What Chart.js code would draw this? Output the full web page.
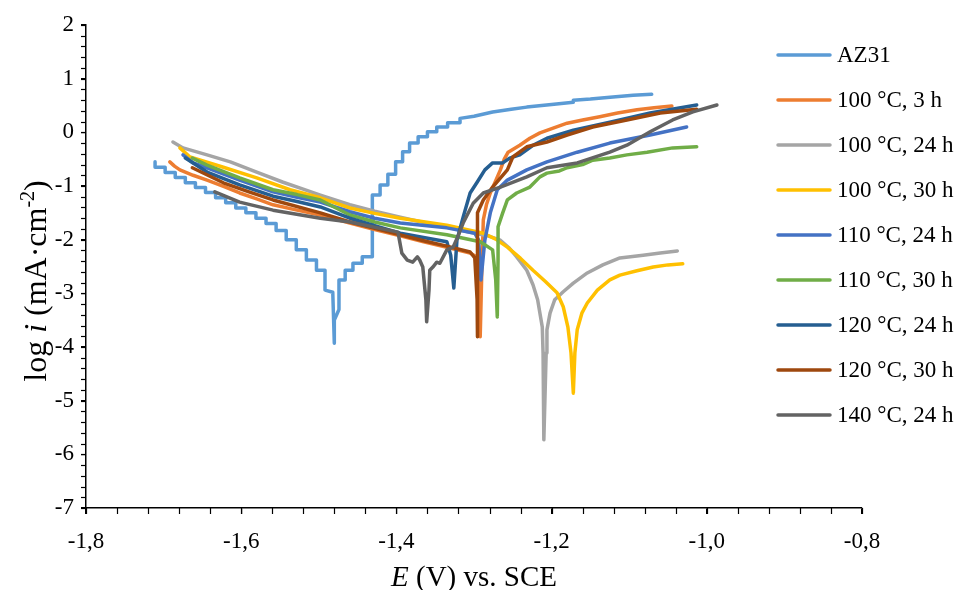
<!DOCTYPE html>
<html><head><meta charset="utf-8">
<script src="https://cdn.jsdelivr.net/npm/chart.js@4.4.1/dist/chart.umd.min.js"></script>
<style>html,body{margin:0;padding:0;background:#fff}canvas{display:block}</style>
</head><body>
<canvas id="c" width="959" height="590"></canvas>
<script>
// ---- data: [E (V vs SCE), log i (mA·cm-2)] ----
const seriesNames = ['AZ31','100 °C, 3 h','100 °C, 24 h','100 °C, 30 h','110 °C, 24 h','110 °C, 30 h','120 °C, 24 h','120 °C, 30 h','140 °C, 24 h'];
const xMajorTicks = [-1.8,-1.6,-1.4,-1.2,-1.0,-0.8];
const yMajorTicks = [-7,-6,-5,-4,-3,-2,-1,0,1,2];

const AZ31 = [[-1.711,-0.55],[-1.711,-0.65],[-1.698,-0.65],[-1.698,-0.75],[-1.685,-0.75],[-1.685,-0.84],[-1.672,-0.84],[-1.672,-0.94],[-1.659,-0.94],[-1.659,-1.03],[-1.646,-1.03],[-1.646,-1.12],[-1.633,-1.12],[-1.633,-1.22],[-1.620,-1.22],[-1.620,-1.31],[-1.607,-1.31],[-1.607,-1.41],[-1.594,-1.41],[-1.594,-1.50],[-1.581,-1.50],[-1.581,-1.60],[-1.568,-1.60],[-1.568,-1.70],[-1.555,-1.70],[-1.555,-1.83],[-1.542,-1.83],[-1.542,-2.00],[-1.529,-2.00],[-1.529,-2.19],[-1.516,-2.19],[-1.516,-2.38],[-1.503,-2.38],[-1.503,-2.57],[-1.492,-2.57],[-1.492,-2.94],[-1.482,-2.98],[-1.480,-3.93],[-1.480,-3.50],[-1.474,-3.30],[-1.474,-2.75],[-1.466,-2.75],[-1.466,-2.57],[-1.456,-2.57],[-1.456,-2.44],[-1.444,-2.44],[-1.444,-2.32],[-1.431,-2.32],[-1.431,-1.17],[-1.421,-1.17],[-1.421,-0.98],[-1.411,-0.98],[-1.411,-0.78],[-1.401,-0.78],[-1.401,-0.55],[-1.392,-0.55],[-1.392,-0.36],[-1.383,-0.36],[-1.383,-0.20],[-1.372,-0.20],[-1.372,-0.08],[-1.360,-0.08],[-1.360,0.01],[-1.348,0.01],[-1.348,0.10],[-1.334,0.10],[-1.334,0.18],[-1.318,0.18],[-1.318,0.26],[-1.300,0.30],[-1.276,0.38],[-1.252,0.43],[-1.232,0.47],[-1.200,0.52],[-1.172,0.56],[-1.172,0.60],[-1.150,0.62],[-1.121,0.66],[-1.095,0.69],[-1.071,0.71]];
const T100_3 = [[-1.692,-0.55],[-1.686,-0.63],[-1.679,-0.70],[-1.662,-0.80],[-1.644,-0.89],[-1.622,-1.01],[-1.602,-1.13],[-1.580,-1.24],[-1.559,-1.35],[-1.528,-1.45],[-1.498,-1.54],[-1.460,-1.69],[-1.428,-1.81],[-1.395,-1.93],[-1.365,-2.04],[-1.335,-2.14],[-1.305,-2.25],[-1.297,-2.32],[-1.294,-2.40],[-1.292,-3.12],[-1.292,-3.81],[-1.290,-2.62],[-1.288,-1.63],[-1.284,-1.35],[-1.279,-1.13],[-1.272,-0.90],[-1.266,-0.70],[-1.261,-0.50],[-1.256,-0.37],[-1.241,-0.24],[-1.228,-0.11],[-1.215,-0.01],[-1.198,0.08],[-1.180,0.17],[-1.160,0.23],[-1.138,0.29],[-1.115,0.36],[-1.090,0.42],[-1.068,0.46],[-1.045,0.49]];
const T100_24 = [[-1.688,-0.18],[-1.675,-0.29],[-1.644,-0.42],[-1.614,-0.55],[-1.580,-0.74],[-1.546,-0.93],[-1.522,-1.05],[-1.498,-1.17],[-1.460,-1.35],[-1.428,-1.47],[-1.395,-1.58],[-1.362,-1.69],[-1.331,-1.78],[-1.299,-1.88],[-1.282,-1.93],[-1.266,-2.01],[-1.255,-2.15],[-1.245,-2.32],[-1.232,-2.57],[-1.224,-2.84],[-1.218,-3.12],[-1.212,-3.63],[-1.211,-4.11],[-1.210,-5.73],[-1.207,-4.11],[-1.206,-3.68],[-1.202,-3.37],[-1.196,-3.12],[-1.185,-2.97],[-1.172,-2.81],[-1.154,-2.62],[-1.134,-2.47],[-1.112,-2.34],[-1.082,-2.29],[-1.060,-2.25],[-1.038,-2.21]];
const T100_30 = [[-1.679,-0.29],[-1.666,-0.46],[-1.623,-0.65],[-1.580,-0.85],[-1.537,-1.07],[-1.498,-1.22],[-1.460,-1.41],[-1.428,-1.51],[-1.395,-1.60],[-1.335,-1.73],[-1.288,-1.88],[-1.272,-1.99],[-1.257,-2.14],[-1.240,-2.35],[-1.224,-2.57],[-1.208,-2.78],[-1.193,-2.99],[-1.185,-3.25],[-1.179,-3.63],[-1.175,-4.11],[-1.172,-4.86],[-1.170,-4.11],[-1.167,-3.68],[-1.161,-3.37],[-1.154,-3.18],[-1.141,-2.94],[-1.125,-2.75],[-1.112,-2.66],[-1.090,-2.58],[-1.069,-2.51],[-1.050,-2.47],[-1.031,-2.45]];
const T110_24 = [[-1.675,-0.42],[-1.662,-0.57],[-1.644,-0.66],[-1.602,-0.89],[-1.559,-1.11],[-1.528,-1.21],[-1.498,-1.30],[-1.460,-1.48],[-1.428,-1.60],[-1.395,-1.69],[-1.335,-1.78],[-1.299,-1.88],[-1.294,-2.01],[-1.291,-2.75],[-1.286,-2.01],[-1.279,-1.50],[-1.270,-1.07],[-1.257,-0.89],[-1.232,-0.70],[-1.206,-0.55],[-1.167,-0.37],[-1.125,-0.20],[-1.073,-0.05],[-1.026,0.10]];
const T110_30 = [[-1.663,-0.48],[-1.644,-0.61],[-1.602,-0.85],[-1.559,-1.07],[-1.528,-1.16],[-1.498,-1.26],[-1.460,-1.54],[-1.428,-1.67],[-1.395,-1.78],[-1.335,-1.91],[-1.292,-2.04],[-1.276,-2.19],[-1.272,-2.75],[-1.270,-3.44],[-1.269,-2.38],[-1.269,-1.76],[-1.263,-1.50],[-1.257,-1.26],[-1.245,-1.13],[-1.228,-1.02],[-1.215,-0.83],[-1.206,-0.76],[-1.190,-0.72],[-1.180,-0.66],[-1.160,-0.60],[-1.147,-0.52],[-1.125,-0.48],[-1.103,-0.42],[-1.077,-0.37],[-1.044,-0.29],[-1.013,-0.27]];
const T120_24 = [[-1.672,-0.48],[-1.644,-0.74],[-1.602,-0.98],[-1.559,-1.19],[-1.528,-1.29],[-1.498,-1.39],[-1.460,-1.60],[-1.428,-1.74],[-1.395,-1.88],[-1.335,-2.04],[-1.330,-2.29],[-1.326,-2.90],[-1.322,-2.01],[-1.314,-1.58],[-1.305,-1.13],[-1.296,-0.93],[-1.286,-0.70],[-1.276,-0.57],[-1.263,-0.57],[-1.254,-0.48],[-1.241,-0.42],[-1.224,-0.24],[-1.206,-0.11],[-1.172,0.04],[-1.125,0.19],[-1.073,0.36],[-1.013,0.51]];
const T120_30 = [[-1.663,-0.66],[-1.623,-0.94],[-1.590,-1.11],[-1.559,-1.26],[-1.498,-1.50],[-1.460,-1.67],[-1.428,-1.79],[-1.395,-1.91],[-1.365,-2.02],[-1.335,-2.12],[-1.305,-2.23],[-1.299,-2.34],[-1.296,-3.12],[-1.296,-3.81],[-1.295,-1.50],[-1.288,-1.26],[-1.276,-1.02],[-1.257,-0.70],[-1.250,-0.46],[-1.232,-0.27],[-1.206,-0.18],[-1.180,-0.05],[-1.147,0.10],[-1.103,0.23],[-1.060,0.36],[-1.013,0.43]];
const T140_24 = [[-1.634,-1.11],[-1.602,-1.30],[-1.559,-1.45],[-1.498,-1.60],[-1.460,-1.67],[-1.398,-1.86],[-1.393,-2.25],[-1.386,-2.38],[-1.379,-2.42],[-1.373,-2.32],[-1.370,-2.38],[-1.366,-2.51],[-1.362,-3.12],[-1.361,-3.53],[-1.358,-2.94],[-1.357,-2.57],[-1.353,-2.51],[-1.348,-2.42],[-1.344,-2.44],[-1.335,-2.19],[-1.327,-2.14],[-1.321,-1.95],[-1.314,-1.69],[-1.301,-1.32],[-1.288,-1.13],[-1.266,-1.02],[-1.232,-0.83],[-1.206,-0.66],[-1.167,-0.57],[-1.125,-0.37],[-1.103,-0.24],[-1.073,0.01],[-1.044,0.23],[-1.018,0.38],[-0.987,0.51]];

const seriesData = [AZ31,T100_3,T100_24,T100_30,T110_24,T110_30,T120_24,T120_30,T140_24];
const colors = ['#5B9BD5','#ED7D31','#A5A5A5','#FFC000','#4472C4','#70AD47','#255E91','#9E480E','#636363'];

const FONT = "'Liberation Serif','Times New Roman',serif";
const TICK_SIZE = 23, LEGEND_SIZE = 23, XTITLE_SIZE = 29, YTITLE_SIZE = 32;
const LINE_W = 3.5;
Chart.defaults.font.family = FONT;
Chart.defaults.color = '#000';

const near = (v, arr) => arr.some(a => Math.abs(a - v) < 1e-6);

// minor tick marks (every 0.04 V on x, every 0.2 on y), placed through the chart's scales
const minorTickPlugin = {
  id: 'minorTicks',
  afterDraw(chart) {
    const ctx = chart.ctx, xs = chart.scales.x, ys = chart.scales.y, a = chart.chartArea;
    ctx.save();
    ctx.strokeStyle = '#000'; ctx.lineWidth = 1.2;
    const nx = Math.round((xs.max - xs.min) / 0.04);
    for (let k = 0; k <= nx; k++) {
      const px = Math.round(xs.getPixelForValue(xs.min + k * 0.04)) + 0.5;
      ctx.beginPath(); ctx.moveTo(px, a.bottom); ctx.lineTo(px, a.bottom + 6); ctx.stroke();
    }
    const ny = Math.round((ys.max - ys.min) / 0.2);
    for (let k = 0; k <= ny; k++) {
      const py = Math.round(ys.getPixelForValue(ys.min + k * 0.2)) + 0.5;
      ctx.beginPath(); ctx.moveTo(a.left - 5, py); ctx.lineTo(a.left, py); ctx.stroke();
    }
    ctx.restore();
  }
};

const legendPlugin = {
  id: 'customLegend',
  afterDraw(chart) {
    const ctx = chart.ctx;
    ctx.save();
    chart.data.datasets.forEach((ds, i) => {
      const y = 55 + i * 45;
      ctx.strokeStyle = ds.borderColor;
      ctx.lineWidth = LINE_W;
      ctx.lineCap = 'round';
      ctx.beginPath(); ctx.moveTo(778, y); ctx.lineTo(830, y); ctx.stroke();
      ctx.fillStyle = '#000';
      ctx.font = LEGEND_SIZE + "px " + FONT;
      ctx.textBaseline = 'middle';
      ctx.textAlign = 'left';
      ctx.fillText(ds.label, 837, y + 1);
    });
    ctx.restore();
  }
};

function drawRich(ctx, parts, cx, cy, rot, size) {
  ctx.save();
  ctx.translate(cx, cy); ctx.rotate(rot);
  const f = p => (p.italic ? 'italic ' : '') + (p.sup ? Math.round(size * 0.62) : size) + 'px ' + FONT;
  let total = 0;
  parts.forEach(p => { ctx.font = f(p); p.w = ctx.measureText(p.t).width; total += p.w; });
  let x = -total / 2;
  ctx.textBaseline = 'alphabetic'; ctx.textAlign = 'left'; ctx.fillStyle = '#000';
  parts.forEach(p => { ctx.font = f(p); ctx.fillText(p.t, x, p.sup ? -size * 0.38 : 0); x += p.w; });
  ctx.restore();
}

const titlePlugin = {
  id: 'axisTitles',
  afterDraw(chart) {
    const ctx = chart.ctx;
    drawRich(ctx, [{t:'E', italic:true},{t:' (V) vs. SCE'}], 474, 586, 0, XTITLE_SIZE);
    drawRich(ctx, [{t:'log '},{t:'i', italic:true},{t:' (mA·cm'},{t:'-2', sup:true},{t:')'}], 46, 281, -Math.PI/2, YTITLE_SIZE);
  }
};

new Chart(document.getElementById('c'), {
  type: 'line',
  data: {
    datasets: seriesData.map((d, i) => ({
      label: seriesNames[i],
      data: d.map(p => ({x: p[0], y: p[1]})),
      borderColor: colors[i],
      backgroundColor: colors[i],
      borderWidth: LINE_W,
      pointRadius: 0,
      tension: 0,
      fill: false,
      borderJoinStyle: 'round',
      borderCapStyle: 'round',
      order: seriesData.length - i
    }))
  },
  options: {
    responsive: false,
    animation: false,
    devicePixelRatio: 1,
    layout: {padding: {left: 0, top: 25, right: 97, bottom: 0}},
    plugins: {legend: {display: false}, tooltip: {enabled: false}},
    scales: {
      x: {
        type: 'linear', min: -1.8, max: -0.8,
        afterFit: s => { s.height = 82; },
        ticks: {
          stepSize: 0.2, autoSkip: false, maxRotation: 0, padding: 14,
          font: {size: TICK_SIZE}, color: '#000',
          callback: v => near(v, xMajorTicks) ? v.toFixed(1).replace('.', ',') : ''
        },
        grid: {drawOnChartArea: false, drawTicks: true, tickLength: 6, color: '#000', lineWidth: 1.2},
        border: {color: '#000', width: 1.5}
      },
      y: {
        type: 'linear', min: -7, max: 2,
        afterFit: s => { s.width = 86; },
        ticks: {
          stepSize: 1, autoSkip: false, padding: 7,
          font: {size: TICK_SIZE}, color: '#000',
          callback: v => near(v, yMajorTicks) ? String(Math.round(v)) : ''
        },
        grid: {drawOnChartArea: false, drawTicks: true, tickLength: 5, color: '#000', lineWidth: 1.2},
        border: {color: '#000', width: 1.5}
      }
    }
  },
  plugins: [minorTickPlugin, legendPlugin, titlePlugin]
});
</script>
</body></html>
